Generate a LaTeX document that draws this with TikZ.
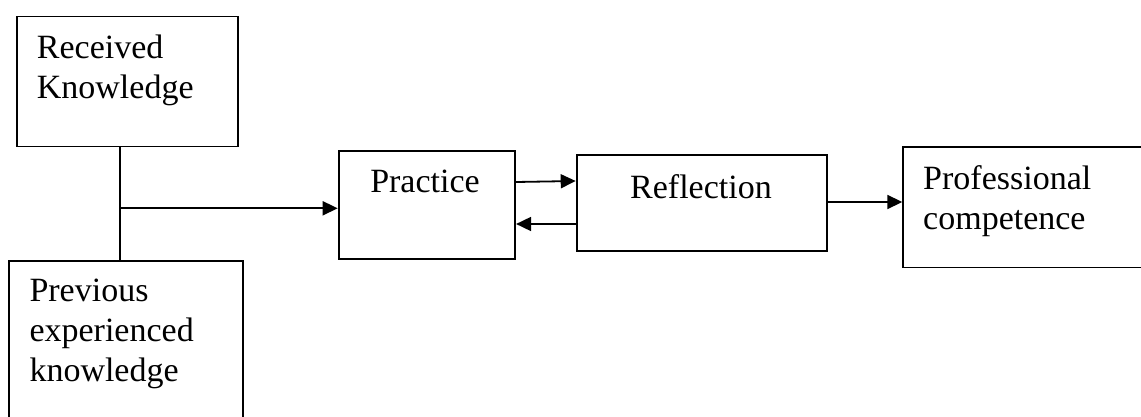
\documentclass[tikz,border=0pt]{standalone}
\usepackage{fontspec}
\setmainfont{Liberation Serif}
\usetikzlibrary{arrows.meta}
\begin{document}
\begin{tikzpicture}[x=1pt,y=-1pt,
  box/.style={draw, line width=1.8pt, rectangle, inner sep=0pt, anchor=north west},
  lbl/.style={font=\fontsize{34}{40}\selectfont, inner sep=0pt, align=left, anchor=base west},
  lblc/.style={font=\fontsize{34}{40}\selectfont, inner sep=0pt, anchor=base},
  link/.style={line width=1.8pt},
  arr/.style={line width=1.8pt, -{Triangle[length=15pt,width=14pt]}}]
\useasboundingbox (0,0) rectangle (1141,417);
\clip (0,0) rectangle (1141,417);
\node[box, minimum width=221pt, minimum height=130pt] (rk) at (15.7,15.7) {};
\node[box, minimum width=233.4pt, minimum height=170pt] (prev) at (8.3,260) {};
\node[box, minimum width=176.6pt, minimum height=107.7pt] (pr) at (337.7,150) {};
\node[box, minimum width=250.6pt, minimum height=95.7pt] (rf) at (575.7,154.3) {};
\node[box, minimum width=250pt, minimum height=120.5pt] (pc) at (902.3,146) {};
\node[lbl] (rkt) at (36.7,98.3) {Received\\Knowledge};
\node[lbl] (prevt) at (29.3,381.7) {Previous\\experienced\\knowledge};
\node[lblc] (prt) at (425,193) {Practice};
\node[lblc] (rft) at (701,198.3) {Reflection};
\node[lbl] (pct) at (923,229.3) {Professional\\competence};
\coordinate (j) at (120,208.3);
\coordinate (a1) at (0,182);
\coordinate (a2) at (0,181);
\coordinate (b) at (0,224);
\coordinate (c) at (0,202);
\draw[link] (rk.south -| j) -- (prev.north -| j);
\draw[arr] (j) -- (j -| pr.west);
\draw[arr] (pr.east |- a1) -- (rf.west |- a2);
\draw[arr] (rf.west |- b) -- (pr.east |- b);
\draw[arr] (rf.east |- c) -- (pc.west |- c);
\end{tikzpicture}
\end{document}
